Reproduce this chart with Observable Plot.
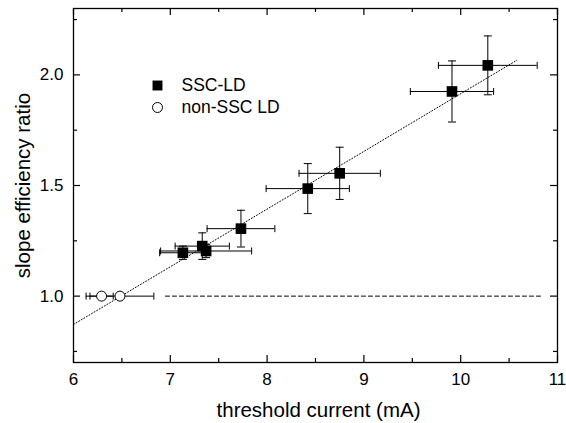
<!DOCTYPE html>
<html>
<head>
<meta charset="utf-8">
<script src="https://cdn.jsdelivr.net/npm/d3@7"></script>
<script src="https://cdn.jsdelivr.net/npm/@observablehq/plot@0.6"></script>
<style>
  html, body { margin: 0; padding: 0; background: #fff; }
  #chart svg { display: block; font-family: "Liberation Sans", Arial, Helvetica, sans-serif; }
</style>
</head>
<body>
<div id="chart"></div>
<script>
// SSC-LD data
const sscX    = [7.13, 7.33, 7.37, 7.73, 8.42, 8.75, 9.91, 10.28];
const sscY    = [1.196, 1.226, 1.204, 1.305, 1.486, 1.555, 1.925, 2.043];
const sscXErr = [0.24, 0.28, 0.47, 0.35, 0.43, 0.42, 0.43, 0.51];
const sscYErr = [0.03, 0.06, 0.03, 0.083, 0.113, 0.118, 0.138, 0.133];

// non-SSC LD data
const nonX    = [6.29, 6.48];
const nonY    = [1.0, 1.0];
const nonXErr = [0.12, 0.35];

// linear fit (dotted) and reference line (dashed)
const fitX = [6.0, 10.58];
const fitY = [0.872, 2.066];
const refX = [6.95, 10.83];
const refY = [1.0, 1.0];

// ticks
const xMajor = [6, 7, 8, 9, 10, 11];
const xMinor = [6.5, 7.5, 8.5, 9.5, 10.5];
const yMajor = [1.0, 1.5, 2.0];
const yMinor = [0.75, 1.25, 1.75, 2.25];

const legendLabels = ["SSC-LD", "non-SSC LD"];
const xTitle = "threshold current (mA)";
const yTitle = "slope efficiency ratio";

const ssc = sscX.map((x, i) => ({x, y: sscY[i], xe: sscXErr[i], ye: sscYErr[i]}));
const non = nonX.map((x, i) => ({x, y: nonY[i], xe: nonXErr[i]}));
const fit = fitX.map((x, i) => ({x, y: fitY[i]}));
const ref = refX.map((x, i) => ({x, y: refY[i]}));

const W = 566, H = 423, mL = 73, mR = 9, mT = 8, mB = 61;
const innerW = W - mL - mR, innerH = H - mT - mB;
const majLen = 7, minLen = 4;

const vBar = {draw(ctx, size) { const r = Math.sqrt(size / Math.PI); ctx.moveTo(0, -r); ctx.lineTo(0, r); }};
const hBar = {draw(ctx, size) { const r = Math.sqrt(size / Math.PI); ctx.moveTo(-r, 0); ctx.lineTo(r, 0); }};

const chart = Plot.plot({
  width: W, height: H,
  marginLeft: mL, marginRight: mR, marginTop: mT, marginBottom: mB,
  style: {fontFamily: '"Liberation Sans", Arial, Helvetica, sans-serif', color: "black", background: "white"},
  x: {domain: [6, 11]},
  y: {domain: [0.7, 2.3]},
  marks: [
    // tick labels
    Plot.axisX(xMajor, {anchor: "bottom", tickSize: 0, tickPadding: 10, fontSize: 17, label: null, tickFormat: d => String(d)}),
    Plot.axisY(yMajor, {anchor: "left", tickSize: 0, tickPadding: 10, fontSize: 17, label: null, tickFormat: d => d.toFixed(1)}),
    // inward ticks, bottom/top
    Plot.tickX(xMajor, {x: d => d, insetTop: innerH - majLen, stroke: "black", strokeWidth: 1.2}),
    Plot.tickX(xMajor, {x: d => d, insetBottom: innerH - majLen, stroke: "black", strokeWidth: 1.2}),
    Plot.tickX(xMinor, {x: d => d, insetTop: innerH - minLen, stroke: "black", strokeWidth: 1.2}),
    Plot.tickX(xMinor, {x: d => d, insetBottom: innerH - minLen, stroke: "black", strokeWidth: 1.2}),
    // inward ticks, left/right
    Plot.tickY(yMajor, {y: d => d, insetRight: innerW - majLen, stroke: "black", strokeWidth: 1.2}),
    Plot.tickY(yMajor, {y: d => d, insetLeft: innerW - majLen, stroke: "black", strokeWidth: 1.2}),
    Plot.tickY(yMinor, {y: d => d, insetRight: innerW - minLen, stroke: "black", strokeWidth: 1.2}),
    Plot.tickY(yMinor, {y: d => d, insetLeft: innerW - minLen, stroke: "black", strokeWidth: 1.2}),
    // reference and fit lines
    Plot.line(ref, {x: "x", y: "y", stroke: "black", strokeWidth: 1, strokeDasharray: "4,3"}),
    Plot.line(fit, {x: "x", y: "y", stroke: "black", strokeWidth: 1, strokeDasharray: "1,2"}),
    // error bars SSC
    Plot.ruleY(ssc, {y: "y", x1: d => d.x - d.xe, x2: d => d.x + d.xe, stroke: "black", strokeWidth: 1}),
    Plot.ruleX(ssc, {x: "x", y1: d => d.y - d.ye, y2: d => d.y + d.ye, stroke: "black", strokeWidth: 1}),
    Plot.dot(ssc, {x: d => d.x - d.xe, y: "y", symbol: vBar, r: 3.5, fill: "none", stroke: "black", strokeWidth: 1}),
    Plot.dot(ssc, {x: d => d.x + d.xe, y: "y", symbol: vBar, r: 3.5, fill: "none", stroke: "black", strokeWidth: 1}),
    Plot.dot(ssc, {x: "x", y: d => d.y - d.ye, symbol: hBar, r: 4, fill: "none", stroke: "black", strokeWidth: 1}),
    Plot.dot(ssc, {x: "x", y: d => d.y + d.ye, symbol: hBar, r: 4, fill: "none", stroke: "black", strokeWidth: 1}),
    // error bars non-SSC
    Plot.ruleY(non, {y: "y", x1: d => d.x - d.xe, x2: d => d.x + d.xe, stroke: "black", strokeWidth: 1}),
    Plot.dot(non, {x: d => d.x - d.xe, y: "y", symbol: vBar, r: 3.5, fill: "none", stroke: "black", strokeWidth: 1}),
    Plot.dot(non, {x: d => d.x + d.xe, y: "y", symbol: vBar, r: 3.5, fill: "none", stroke: "black", strokeWidth: 1}),
    // points
    Plot.dot(ssc, {x: "x", y: "y", symbol: "square", r: 6, fill: "black", stroke: "none"}),
    Plot.dot(non, {x: "x", y: "y", symbol: "circle", r: 5, fill: "white", stroke: "black", strokeWidth: 1}),
    // legend
    Plot.dot([legendLabels[0]], {frameAnchor: "top-left", dx: 84, dy: 77, symbol: "square", r: 5.6, fill: "black"}),
    Plot.dot([legendLabels[1]], {frameAnchor: "top-left", dx: 84, dy: 99, symbol: "circle", r: 5, fill: "white", stroke: "black", strokeWidth: 1}),
    Plot.text([legendLabels[0]], {frameAnchor: "top-left", dx: 108, dy: 77, text: d => d, textAnchor: "start", lineAnchor: "middle", fontSize: 17.5, fill: "black"}),
    Plot.text([legendLabels[1]], {frameAnchor: "top-left", dx: 108, dy: 99, text: d => d, textAnchor: "start", lineAnchor: "middle", fontSize: 17.5, fill: "black"}),
    // axis titles
    Plot.text([xTitle], {frameAnchor: "bottom", dx: 3, dy: 48, text: d => d, textAnchor: "middle", lineAnchor: "middle", fontSize: 20.5, fill: "black"}),
    Plot.text([yTitle], {frameAnchor: "left", dx: -50, rotate: -90, text: d => d, textAnchor: "middle", lineAnchor: "middle", fontSize: 20.5, fill: "black"}),
    // frame
    Plot.frame({stroke: "black", strokeWidth: 1.3})
  ]
});
document.getElementById("chart").appendChild(chart);
</script>
</body>
</html>
